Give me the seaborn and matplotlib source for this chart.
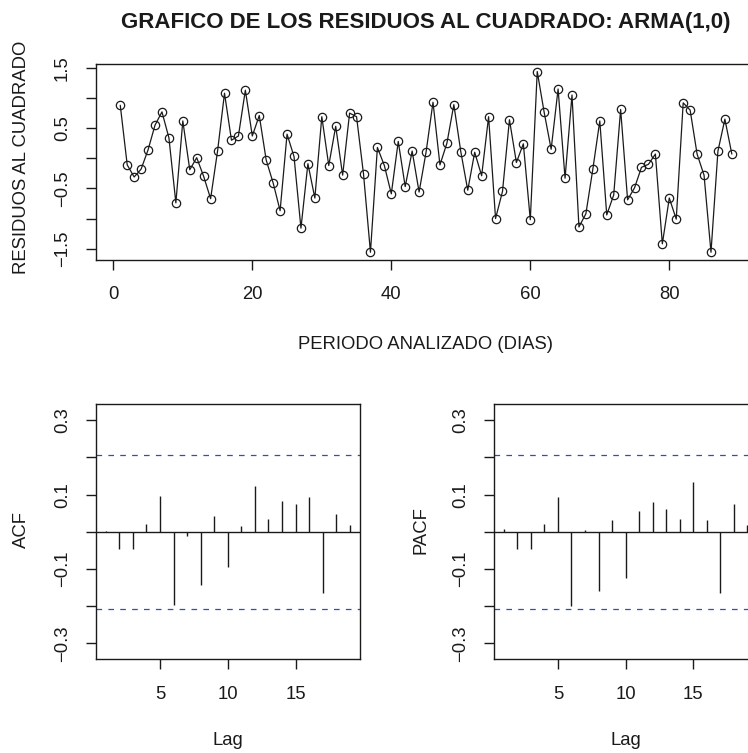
import numpy as np
import pandas as pd
import matplotlib
matplotlib.use("Agg")
import matplotlib.pyplot as plt
import seaborn as sns

# ---------------- data ----------------
residuals = [0.88, -0.11, -0.31, -0.18, 0.14, 0.55, 0.77, 0.34, -0.74, 0.62,
             -0.19, 0.01, -0.30, -0.67, 0.12, 1.08, 0.30, 0.37, 1.13, 0.37,
             0.71, -0.03, -0.41, -0.87, 0.40, 0.03, -1.16, -0.09, -0.66, 0.69,
             -0.12, 0.53, -0.28, 0.75, 0.69, -0.26, -1.56, 0.18, -0.12, -0.59,
             0.28, -0.47, 0.12, -0.56, 0.10, 0.93, -0.11, 0.25, 0.89, 0.11,
             -0.53, 0.10, -0.29, 0.69, -1.00, -0.55, 0.64, -0.07, 0.24, -1.02,
             1.44, 0.76, 0.15, 1.15, -0.33, 1.05, -1.14, -0.92, -0.18, 0.62,
             -0.94, -0.61, 0.81, -0.69, -0.49, -0.15, -0.10, 0.07, -1.42, -0.66,
             -1.01, 0.92, 0.80, 0.07, -0.28, -1.56, 0.12, 0.65, 0.07]
days = list(range(1, len(residuals) + 1))

lags = list(range(1, 20))
acf_vals = [0.003, -0.046, -0.045, 0.022, 0.097, -0.197, -0.012, -0.143, 0.043, -0.094,
            0.015, 0.122, 0.035, 0.084, 0.076, 0.093, -0.164, 0.048, 0.018]
pacf_vals = [0.007, -0.047, -0.045, 0.020, 0.093, -0.200, 0.005, -0.159, 0.031, -0.124,
             0.057, 0.079, 0.061, 0.035, 0.133, 0.031, -0.164, 0.075, 0.018]
conf_limit = 0.2078

top_xticks = [0, 20, 40, 60, 80]
top_yticks = [-1.5, -1.0, -0.5, 0.0, 0.5, 1.0, 1.5]
top_yticklabels = ["\u22121.5", "", "\u22120.5", "", "0.5", "", "1.5"]
cor_xticks = [5, 10, 15]
cor_yticks = [-0.3, -0.2, -0.1, 0.0, 0.1, 0.2, 0.3]
cor_yticklabels = ["\u22120.3", "", "\u22120.1", "", "0.1", "", "0.3"]

title = "GRAFICO DE LOS RESIDUOS AL CUADRADO: ARMA(1,0)"
top_ylabel = "RESIDUOS AL CUADRADO"
top_xlabel = "PERIODO ANALIZADO (DIAS)"

# ---------------- style ----------------
sns.set_theme(style="ticks")
plt.rcParams["font.family"] = ["Liberation Sans", "DejaVu Sans"]
plt.rcParams["axes.unicode_minus"] = True

W, H = 748, 753
fig = plt.figure(figsize=(W / 100, H / 100), dpi=100)
fig.patch.set_facecolor("white")


def add_ax(left, right, top, bottom):
    return fig.add_axes([left / W, 1 - bottom / H, (right - left) / W, (bottom - top) / H])


INK = "#1a1a1a"
FS = 13.3


def style_ax(ax, xpad, ypad):
    for s in ax.spines.values():
        s.set_visible(True)
        s.set_color(INK)
        s.set_linewidth(1.0)
    ax.set_facecolor("white")
    ax.tick_params(axis="both", direction="out", length=7.5, width=1.0, color=INK,
                   labelsize=FS, labelcolor=INK)
    ax.tick_params(axis="x", pad=xpad)
    ax.tick_params(axis="y", pad=ypad, labelrotation=90)
    for lab in ax.get_yticklabels():
        lab.set_va("center")
    ax.grid(False)


# ---------------- top panel ----------------
ax1 = add_ax(95.8, 756.3, 64.3, 259.5)
df = pd.DataFrame({"dia": days, "res": residuals})
sns.lineplot(data=df, x="dia", y="res", ax=ax1, color=INK, lw=0.9,
             marker="o", markersize=6, markerfacecolor="none",
             markeredgecolor=INK, markeredgewidth=0.9)
ax1.set_xlim(-2.52, 92.52)
ax1.set_ylim(-1.68, 1.56)
ax1.set_xticks(top_xticks)
ax1.set_xticklabels([str(t) for t in top_xticks])
ax1.set_yticks(top_yticks)
ax1.set_yticklabels(top_yticklabels)
ax1.set_xlabel("")
ax1.set_ylabel("")
style_ax(ax1, xpad=11.5, ypad=10.5)


# ---------------- ACF / PACF ----------------
def corr_panel(left, right, vals):
    ax = add_ax(left, right, 404.3, 659.3)
    ax.axhline(0, color=INK, lw=1.0)
    ax.vlines(lags, 0, vals, color=INK, lw=1.0)
    for c in (conf_limit, -conf_limit):
        ax.axhline(c, color="#3050B0", lw=0.9, dashes=(4.5, 5))
    ax.set_xlim(0.28, 19.72)
    ax.set_ylim(-0.343, 0.343)
    ax.set_xticks(cor_xticks)
    ax.set_xticklabels([str(t) for t in cor_xticks])
    ax.set_yticks(cor_yticks)
    ax.set_yticklabels(cor_yticklabels)
    style_ax(ax, xpad=12, ypad=10.5)
    return ax


ax2 = corr_panel(96.0, 359.6, acf_vals)
ax3 = corr_panel(494.1, 757.0, pacf_vals)

# ---------------- texts ----------------
fig.text(426 / W, 1 - 28 / H, title, ha="center", va="baseline",
         fontsize=16, fontweight="bold", color=INK)
fig.text(22 / W, 1 - 157 / H, top_ylabel, ha="center", va="center",
         rotation=90, fontsize=FS, color=INK)
fig.text(426 / W, 1 - 349 / H, top_xlabel, ha="center", va="baseline",
         fontsize=FS, color=INK)
fig.text(21 / W, 1 - 530 / H, "ACF", ha="center", va="center",
         rotation=90, fontsize=FS, color=INK)
fig.text(421 / W, 1 - 530 / H, "PACF", ha="center", va="center",
         rotation=90, fontsize=FS, color=INK)
fig.text(228 / W, 1 - 745 / H, "Lag", ha="center", va="baseline",
         fontsize=FS, color=INK)
fig.text(626 / W, 1 - 745 / H, "Lag", ha="center", va="baseline",
         fontsize=FS, color=INK)

fig.savefig("out.png", dpi=100, facecolor="white")
